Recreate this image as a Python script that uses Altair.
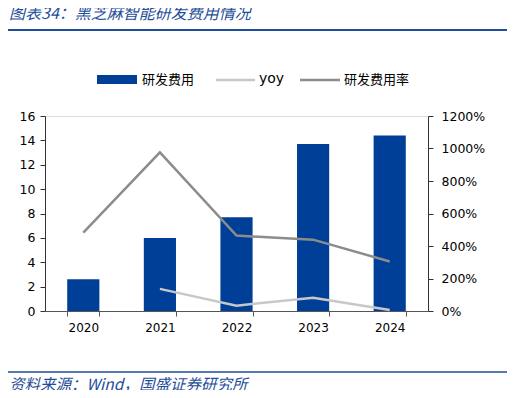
import altair as alt
import pandas as pd

years = ["2020", "2021", "2022", "2023", "2024"]
rd_expense = [2.6, 6.0, 7.7, 13.7, 14.4]          # 亿元
rd_rate = [483, 976, 464, 439, 305]                # %
yoy_years = ["2021", "2022", "2023", "2024"]
yoy = [136, 33, 82, 6]                             # %

title_text = "图表34：黑芝麻智能研发费用情况"
source_text = "资料来源：Wind，国盛证券研究所"
legend_labels = ["研发费用", "yoy", "研发费用率"]

BLUE = "#003F98"
RATE_GREY = "#8C8C8C"
YOY_GREY = "#C8C8C8"
HEAD_BLUE = "#1F4E9A"
W, H = 383, 195

bars_df = pd.DataFrame({"year": years, "v": rd_expense})
rate_df = pd.DataFrame({"year": years, "v": rd_rate})
yoy_df = pd.DataFrame({"year": yoy_years, "v": yoy})
one = pd.DataFrame({"a": [0]})

xenc = alt.X("year:N", sort=years, title=None,
             scale=alt.Scale(paddingInner=0.58, paddingOuter=0.29),
             axis=alt.Axis(labelAngle=0, labelFontSize=12, labelFont="DejaVu Sans",
                           labelColor="#000", domainColor="#555", tickColor="#555",
                           tickSize=5, tickBand="extent", labelPadding=6, grid=False))

bar = alt.Chart(bars_df).mark_bar(color=BLUE).encode(
    x=xenc,
    y=alt.Y("v:Q", title=None,
            scale=alt.Scale(domain=[0, 16]),
            axis=alt.Axis(values=[0, 2, 4, 6, 8, 10, 12, 14, 16], orient="left",
                          labelFontSize=12.5, labelFont="DejaVu Sans", labelColor="#000",
                          domainColor="#333", tickColor="#333", tickSize=5,
                          labelPadding=5, grid=False)),
)

yaxis_r = alt.Axis(values=[0, 200, 400, 600, 800, 1000, 1200], orient="right",
                   labelExpr="datum.value + '%'", labelFontSize=12.5,
                   labelFont="DejaVu Sans", labelColor="#000", domainColor="#333",
                   tickColor="#333", tickSize=5, labelPadding=8, grid=False)

rate_line = alt.Chart(rate_df).mark_line(color=RATE_GREY, strokeWidth=2.5).encode(
    x=alt.X("year:N", sort=years),
    y=alt.Y("v:Q", title=None, scale=alt.Scale(domain=[0, 1200]), axis=yaxis_r),
)
yoy_line = alt.Chart(yoy_df).mark_line(color=YOY_GREY, strokeWidth=2.5).encode(
    x=alt.X("year:N", sort=years),
    y=alt.Y("v:Q", title=None, scale=alt.Scale(domain=[0, 1200]), axis=yaxis_r),
)
lines = alt.layer(yoy_line, rate_line)

main = alt.layer(bar, lines).resolve_scale(y="independent")

# decorations: header, rules, legend, source
base = alt.Chart(one)
title = base.mark_text(text=title_text, font="Noto Sans CJK SC", fontSize=16,
                       fontStyle="italic", color=HEAD_BLUE, align="left",
                       baseline="middle").encode(x=alt.value(-36), y=alt.value(-102))
top_rule = base.mark_rule(color=HEAD_BLUE, strokeWidth=2).encode(
    x=alt.value(-40), x2=alt.value(465), y=alt.value(-86))
bot_rule = base.mark_rule(color=HEAD_BLUE, strokeWidth=1.5).encode(
    x=alt.value(-40), x2=alt.value(465), y=alt.value(256))
source = base.mark_text(text=source_text, font="Noto Sans CJK SC", fontSize=15.5,
                        fontStyle="italic", color=HEAD_BLUE, align="left",
                        baseline="middle").encode(x=alt.value(-36), y=alt.value(269))

leg_rect = base.mark_rect(color=BLUE).encode(
    x=alt.value(52), x2=alt.value(92), y=alt.value(-41), y2=alt.value(-32))
leg_t1 = base.mark_text(text=legend_labels[0], font="Noto Sans CJK SC", fontSize=13,
                        color="#000", align="left", baseline="middle").encode(
    x=alt.value(97), y=alt.value(-36))
leg_l2 = base.mark_rule(color=YOY_GREY, strokeWidth=2.5).encode(
    x=alt.value(171), x2=alt.value(210), y=alt.value(-36))
leg_t2 = base.mark_text(text=legend_labels[1], font="DejaVu Sans", fontSize=14,
                        color="#000", align="left", baseline="middle").encode(
    x=alt.value(214), y=alt.value(-37))
leg_l3 = base.mark_rule(color=RATE_GREY, strokeWidth=2.5).encode(
    x=alt.value(255), x2=alt.value(295), y=alt.value(-36))
leg_t3 = base.mark_text(text=legend_labels[2], font="Noto Sans CJK SC", fontSize=13,
                        color="#000", align="left", baseline="middle").encode(
    x=alt.value(299), y=alt.value(-36))

chart = alt.layer(
    main, title, top_rule, bot_rule, source,
    leg_rect, leg_t1, leg_l2, leg_t2, leg_l3, leg_t3,
).properties(
    width=W, height=H,
    autosize=alt.AutoSizeParams(type="none"),
    padding={"left": 37, "top": 108, "right": 79, "bottom": 79},
).configure_view(stroke=None).configure(background="white")

chart.save("out.html", embed_options={"renderer": "svg", "actions": False})
